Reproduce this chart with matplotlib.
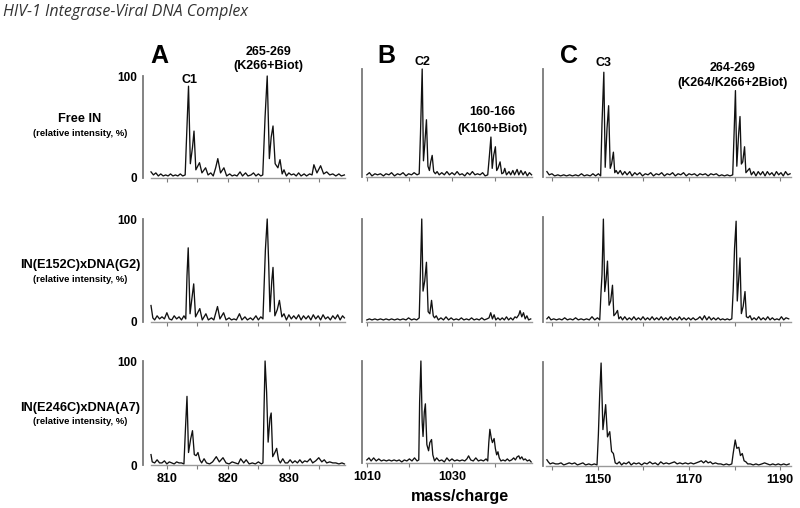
import matplotlib
matplotlib.use("Agg")
import matplotlib.pyplot as plt
from matplotlib import font_manager

# ── Spectra: (m/z, relative intensity %) ─────────────────────────────────

A_FREE = [(807.4, 6), (807.8, 3), (808.2, 5), (808.6, 2), (809.0, 4), (809.4, 2), (809.8, 3), (810.2, 2),
          (810.6, 4), (811.0, 2), (811.4, 3), (811.8, 2), (812.2, 4), (812.6, 2), (813.0, 3),
          (813.2, 35), (813.55, 90), (813.85, 14), (814.2, 30), (814.45, 46), (814.75, 8), (815.35, 15),
          (815.75, 5), (816.35, 10), (816.75, 3), (817.2, 5), (817.6, 2), (818.0, 10), (818.35, 19),
          (818.8, 5), (819.35, 10), (819.8, 2), (820.3, 4), (820.7, 2), (821.1, 3), (821.5, 2), (822.0, 6),
          (822.4, 2), (822.9, 5), (823.3, 2), (823.8, 3), (824.2, 5), (824.6, 2), (825.0, 4), (825.4, 2),
          (825.72, 3), (826.1, 60), (826.45, 100), (826.8, 19), (827.1, 40), (827.4, 51), (827.75, 14),
          (828.2, 10), (828.55, 18), (828.9, 4), (829.2, 8), (829.6, 2), (830.0, 5), (830.4, 3), (830.8, 4),
          (831.2, 2), (831.6, 5), (832.0, 2), (832.5, 4), (832.9, 2), (833.4, 4), (833.8, 3), (834.1, 13),
          (834.6, 5), (835.2, 12), (835.7, 4), (836.2, 6), (836.7, 3), (837.2, 4), (837.7, 2), (838.2, 4),
          (838.6, 2), (839.1, 3)]

A_G2 = [(807.4, 16), (807.7, 4), (808.0, 2), (808.4, 6), (808.8, 3), (809.2, 5), (809.6, 3), (810.0, 9),
        (810.4, 3), (810.8, 2), (811.2, 6), (811.6, 3), (812.0, 5), (812.4, 2), (812.8, 6), (813.1, 3),
        (813.3, 45), (813.5, 72), (813.8, 8), (814.15, 25), (814.4, 37), (814.7, 5), (815.4, 13), (815.8, 2),
        (816.4, 8), (816.8, 2), (817.3, 4), (817.7, 2), (818.3, 15), (818.7, 3), (819.3, 9), (819.7, 2),
        (820.2, 4), (820.6, 2), (821.0, 3), (821.4, 2), (821.9, 8), (822.3, 2), (822.8, 5), (823.2, 2),
        (823.7, 4), (824.1, 2), (824.6, 6), (825.0, 2), (825.4, 5), (825.75, 3),
        (826.15, 70), (826.45, 100), (826.7, 55), (826.9, 10), (827.2, 40), (827.4, 53), (827.7, 6),
        (828.1, 12), (828.45, 21), (828.85, 5), (829.2, 8), (829.6, 2), (830.0, 7), (830.4, 3), (830.8, 6),
        (831.2, 3), (831.6, 7), (832.0, 2), (832.4, 6), (832.8, 3), (833.2, 6), (833.6, 2), (834.0, 7),
        (834.4, 3), (834.8, 6), (835.2, 2), (835.6, 7), (836.0, 3), (836.4, 5), (836.8, 2), (837.2, 6),
        (837.6, 3), (838.0, 7), (838.4, 2), (838.8, 6), (839.1, 4)]

A_A7 = [(807.4, 10), (807.6, 3), (808.0, 2), (808.4, 5), (808.8, 2), (809.2, 2), (809.6, 4), (810.0, 1),
        (810.4, 3), (810.8, 2), (811.2, 1), (811.6, 3), (812.0, 2), (812.4, 2), (812.8, 1),
        (813.05, 35), (813.3, 66), (813.55, 12), (813.9, 25), (814.2, 33), (814.5, 10), (814.8, 9),
        (815.1, 12), (815.4, 5), (815.7, 2), (816.1, 6), (816.5, 2), (817.0, 1), (817.5, 3), (818.1, 8),
        (818.6, 3), (819.2, 7), (819.7, 2), (820.2, 1), (820.7, 3), (821.2, 2), (821.7, 1), (822.1, 6),
        (822.6, 2), (823.0, 5), (823.5, 1), (824.0, 2), (824.5, 1), (825.0, 3), (825.5, 1), (825.75, 2),
        (825.95, 60), (826.1, 100), (826.35, 70), (826.6, 22), (826.9, 45), (827.1, 50), (827.35, 8),
        (827.7, 12), (828.0, 16), (828.3, 5), (828.6, 2), (829.0, 6), (829.4, 2), (829.8, 2), (830.2, 5),
        (830.6, 2), (831.0, 4), (831.4, 2), (831.8, 5), (832.2, 2), (832.6, 4), (833.0, 3), (833.5, 6),
        (833.9, 2), (834.4, 4), (834.9, 7), (835.4, 3), (835.8, 5), (836.2, 2), (836.7, 3), (837.2, 2),
        (837.7, 2), (838.2, 1), (838.7, 2), (839.1, 1)]

B_FREE = [(1010.0, 2), (1010.6, 4), (1011.2, 1), (1011.9, 3), (1012.5, 2), (1013.2, 3), (1013.9, 1),
          (1014.5, 3), (1015.2, 2), (1015.8, 4), (1016.5, 1), (1017.2, 3), (1017.8, 2), (1018.5, 4),
          (1019.2, 1), (1019.8, 3), (1020.5, 2), (1021.1, 4), (1021.8, 2), (1022.3, 3),
          (1022.6, 40), (1023.0, 100), (1023.3, 15), (1023.6, 30), (1024.0, 53), (1024.35, 10),
          (1024.7, 6), (1025.0, 14), (1025.35, 20), (1025.7, 5), (1026.1, 3), (1026.5, 5), (1027.0, 2),
          (1027.6, 4), (1028.2, 2), (1028.8, 5), (1029.4, 2), (1030.0, 4), (1030.6, 2), (1031.2, 5),
          (1031.8, 2), (1032.4, 3), (1033.0, 1), (1033.6, 4), (1034.2, 2), (1034.8, 5), (1035.4, 2),
          (1036.0, 3), (1036.6, 2), (1037.2, 4), (1037.8, 1), (1038.4, 2),
          (1038.8, 20), (1039.15, 37), (1039.45, 8), (1039.8, 20), (1040.2, 28), (1040.5, 6),
          (1040.8, 8), (1041.3, 14), (1041.7, 3), (1042.1, 4), (1042.4, 8), (1042.8, 2), (1043.4, 5),
          (1043.8, 2), (1044.3, 6), (1044.7, 2), (1045.3, 7), (1045.7, 2), (1046.2, 6), (1046.7, 2),
          (1047.2, 5), (1047.7, 1), (1048.2, 4), (1048.7, 2)]

B_G2 = [(1010.0, 2), (1010.6, 3), (1011.2, 2), (1011.9, 3), (1012.5, 2), (1013.2, 3), (1013.9, 2),
        (1014.5, 3), (1015.2, 2), (1015.8, 3), (1016.5, 2), (1017.2, 3), (1017.8, 2), (1018.5, 3),
        (1019.2, 2), (1019.8, 4), (1020.5, 2), (1021.1, 3), (1021.7, 2), (1022.3, 4),
        (1022.6, 50), (1022.9, 100), (1023.2, 30), (1023.6, 40), (1024.0, 58), (1024.4, 10),
        (1024.8, 8), (1025.2, 21), (1025.6, 6), (1025.9, 4), (1026.3, 6), (1026.8, 2), (1027.4, 4),
        (1028.0, 2), (1028.6, 5), (1029.2, 2), (1029.8, 4), (1030.4, 2), (1031.0, 3), (1031.6, 2),
        (1032.2, 4), (1032.8, 2), (1033.4, 3), (1034.0, 2), (1034.6, 4), (1035.2, 2), (1035.8, 3),
        (1036.4, 2), (1037.0, 4), (1037.6, 2), (1038.2, 3), (1038.7, 4),
        (1039.1, 9), (1039.5, 3), (1039.9, 7), (1040.3, 2), (1040.8, 4), (1041.3, 2), (1041.8, 4),
        (1042.3, 2), (1042.8, 5), (1043.3, 2), (1043.8, 4), (1044.3, 2), (1044.8, 5), (1045.2, 4),
        (1045.7, 7), (1046.0, 11), (1046.4, 5), (1046.8, 9), (1047.2, 3), (1047.6, 6), (1048.0, 2),
        (1048.5, 3)]

B_A7 = [(1010.0, 3), (1010.5, 5), (1011.0, 2), (1011.6, 5), (1012.2, 2), (1012.8, 4), (1013.4, 2),
        (1014.0, 3), (1014.6, 2), (1015.2, 3), (1015.8, 2), (1016.4, 3), (1017.0, 2), (1017.6, 3),
        (1018.2, 1), (1018.8, 3), (1019.4, 2), (1020.0, 4), (1020.6, 2), (1021.2, 5), (1021.8, 2),
        (1022.2, 3), (1022.4, 60), (1022.7, 100), (1023.0, 40), (1023.2, 26), (1023.5, 50),
        (1023.75, 58), (1024.1, 18), (1024.5, 12), (1024.8, 20), (1025.2, 23), (1025.5, 8),
        (1025.9, 2), (1026.4, 5), (1027.0, 2), (1027.6, 3), (1028.2, 1), (1028.8, 5), (1029.4, 2),
        (1030.0, 4), (1030.6, 2), (1031.2, 3), (1031.8, 2), (1032.4, 3), (1033.0, 2), (1033.5, 4),
        (1033.9, 7), (1034.4, 3), (1035.0, 2), (1035.6, 5), (1036.2, 2), (1036.8, 3), (1037.4, 2),
        (1038.0, 4), (1038.4, 2), (1038.65, 20), (1038.9, 33), (1039.25, 24), (1039.5, 20),
        (1039.9, 24), (1040.2, 14), (1040.5, 8), (1040.8, 11), (1041.1, 5), (1041.5, 2), (1042.0, 3),
        (1042.5, 2), (1043.0, 4), (1043.5, 2), (1044.0, 3), (1044.5, 5), (1044.9, 3), (1045.3, 6),
        (1045.7, 7), (1046.0, 4), (1046.4, 6), (1046.8, 3), (1047.2, 4), (1047.7, 2), (1048.2, 3),
        (1048.6, 1)]

C_FREE = [(1138.8, 5), (1139.3, 2), (1139.9, 3), (1140.5, 1), (1141.2, 2), (1141.8, 1), (1142.5, 2),
          (1143.1, 1), (1143.8, 2), (1144.4, 1), (1145.1, 2), (1145.7, 1), (1146.4, 3), (1147.0, 1),
          (1147.6, 2), (1148.3, 1), (1148.9, 3), (1149.5, 1), (1150.1, 3), (1150.6, 1),
          (1150.9, 50), (1151.3, 97), (1151.6, 9), (1152.0, 45), (1152.35, 66), (1152.7, 8),
          (1153.0, 12), (1153.4, 23), (1153.7, 4), (1154.0, 6), (1154.4, 3), (1154.9, 6), (1155.4, 2),
          (1155.9, 5), (1156.4, 2), (1157.0, 5), (1157.5, 1), (1158.1, 4), (1158.6, 2), (1159.2, 4),
          (1159.8, 1), (1160.4, 3), (1161.0, 2), (1161.6, 4), (1162.2, 1), (1162.8, 3), (1163.4, 2),
          (1164.0, 4), (1164.6, 1), (1165.2, 3), (1165.8, 2), (1166.4, 4), (1167.0, 1), (1167.6, 3),
          (1168.2, 2), (1168.8, 4), (1169.4, 1), (1170.0, 3), (1170.6, 2), (1171.2, 3), (1171.8, 1),
          (1172.4, 3), (1173.0, 2), (1173.6, 3), (1174.2, 1), (1174.8, 3), (1175.4, 2), (1176.0, 3),
          (1176.6, 1), (1177.2, 2), (1177.8, 1), (1178.4, 2), (1179.0, 1), (1179.6, 2),
          (1179.9, 40), (1180.2, 80), (1180.5, 10), (1180.9, 40), (1181.2, 56), (1181.5, 12),
          (1181.8, 14), (1182.2, 28), (1182.5, 4), (1182.9, 6), (1183.3, 8), (1183.7, 2), (1184.2, 5),
          (1184.7, 1), (1185.2, 5), (1185.7, 2), (1186.2, 5), (1186.7, 1), (1187.2, 5), (1187.7, 2),
          (1188.2, 4), (1188.7, 1), (1189.2, 5), (1189.7, 2), (1190.2, 4), (1190.7, 1), (1191.2, 5),
          (1191.7, 2), (1192.2, 3)]

C_G2 = [(1138.8, 3), (1139.2, 5), (1139.7, 2), (1140.3, 3), (1140.9, 2), (1141.5, 3), (1142.1, 2),
        (1142.7, 4), (1143.3, 2), (1143.9, 3), (1144.5, 2), (1145.1, 4), (1145.7, 2), (1146.3, 3),
        (1146.9, 2), (1147.5, 3), (1148.1, 2), (1148.7, 5), (1149.3, 2), (1149.9, 4), (1150.4, 2),
        (1150.7, 30), (1150.9, 45), (1151.2, 98), (1151.5, 29), (1151.8, 40), (1152.1, 58),
        (1152.45, 16), (1152.8, 20), (1153.2, 35), (1153.5, 6), (1153.9, 8), (1154.3, 11),
        (1154.6, 3), (1155.0, 5), (1155.4, 2), (1155.9, 5), (1156.4, 2), (1156.9, 4), (1157.4, 2),
        (1157.9, 5), (1158.4, 2), (1158.9, 4), (1159.4, 2), (1159.9, 5), (1160.4, 2), (1160.9, 4),
        (1161.4, 2), (1161.9, 5), (1162.4, 2), (1162.9, 4), (1163.4, 2), (1163.9, 5), (1164.4, 2),
        (1164.9, 4), (1165.4, 2), (1165.9, 5), (1166.4, 2), (1166.9, 4), (1167.4, 2), (1167.9, 5),
        (1168.4, 2), (1168.9, 4), (1169.4, 2), (1169.9, 4), (1170.4, 2), (1170.9, 4), (1171.4, 2),
        (1171.9, 3), (1172.4, 5), (1172.9, 2), (1173.4, 6), (1173.9, 2), (1174.4, 5), (1174.9, 2),
        (1175.4, 4), (1175.9, 2), (1176.4, 4), (1176.9, 2), (1177.4, 3), (1177.9, 2), (1178.4, 3),
        (1178.9, 2), (1179.4, 3),
        (1179.7, 30), (1180.0, 70), (1180.35, 96), (1180.6, 20), (1180.9, 40), (1181.2, 61),
        (1181.5, 8), (1181.9, 15), (1182.3, 29), (1182.6, 5), (1183.0, 4), (1183.4, 6), (1183.8, 2),
        (1184.3, 4), (1184.8, 2), (1185.3, 5), (1185.8, 2), (1186.3, 4), (1186.8, 2), (1187.3, 5),
        (1187.8, 2), (1188.3, 4), (1188.8, 2), (1189.3, 3), (1189.8, 2), (1190.3, 5), (1190.8, 2),
        (1191.3, 4), (1191.9, 3)]

C_A7 = [(1138.8, 6), (1139.1, 4), (1139.5, 2), (1140.1, 3), (1140.7, 2), (1141.3, 2), (1141.9, 3),
        (1142.5, 1), (1143.1, 2), (1143.7, 3), (1144.3, 2), (1144.9, 3), (1145.5, 1), (1146.1, 2),
        (1146.7, 3), (1147.3, 1), (1148.0, 2), (1148.6, 1), (1149.2, 2), (1149.8, 1),
        (1150.1, 30), (1150.4, 70), (1150.7, 99), (1151.1, 35), (1151.7, 59), (1152.1, 28),
        (1152.6, 33), (1153.0, 14), (1153.4, 12), (1153.8, 3), (1154.2, 2), (1154.7, 4), (1155.2, 1),
        (1155.7, 3), (1156.2, 2), (1156.8, 4), (1157.3, 1), (1157.9, 3), (1158.4, 2), (1159.0, 3),
        (1159.6, 1), (1160.2, 3), (1160.8, 2), (1161.4, 4), (1162.0, 2), (1162.6, 3), (1163.2, 1),
        (1163.8, 4), (1164.4, 2), (1165.0, 3), (1165.6, 2), (1166.2, 3), (1166.8, 4), (1167.4, 2),
        (1168.0, 3), (1168.6, 2), (1169.2, 3), (1169.8, 2), (1170.4, 3), (1171.0, 2), (1171.6, 3),
        (1172.2, 4), (1172.7, 5), (1173.2, 3), (1173.7, 5), (1174.2, 3), (1174.7, 4), (1175.2, 2),
        (1175.8, 3), (1176.4, 2), (1177.0, 2), (1177.6, 1), (1178.2, 2), (1178.8, 1), (1179.4, 2),
        (1179.7, 12), (1180.15, 25), (1180.5, 17), (1180.95, 18), (1181.3, 10), (1181.7, 12),
        (1182.1, 5), (1182.5, 4), (1182.9, 2), (1183.5, 2), (1184.1, 1), (1184.7, 2), (1185.3, 1),
        (1186.0, 2), (1186.6, 3), (1187.2, 2), (1187.8, 1), (1188.4, 2), (1189.0, 1), (1189.6, 2),
        (1190.2, 1), (1190.8, 2), (1191.4, 1), (1192.0, 2)]

SPECTRA = [[A_FREE, B_FREE, C_FREE],
           [A_G2, B_G2, C_G2],
           [A_A7, B_A7, C_A7]]

ROW_LABELS = ["Free IN", "IN(E152C)xDNA(G2)", "IN(E246C)xDNA(A7)"]
PANEL_LETTERS = ["A", "B", "C"]
X_LIMITS = [(807.4, 839.2), (1009.8, 1048.8), (1138.6, 1192.4)]
X_LABELED = [[810, 820, 830], [1010, 1030], [1150, 1170, 1190]]
X_MINOR = [[815, 825, 835], [1020, 1040], [1140, 1160, 1180]]

# ── Layout (pixel boxes of the reference, 800 x 508) ─────────────────────

W, H = 800, 508
COL_X = [(151, 345), (366, 532), (546, 791)]
SPINE_GAP = [5.8, 3.0, 2.2]  # left axis line sits a bit left of the baseline (points)
ROW_Y = [[(76, 178), (69, 177), (69, 177)],
         [(219, 322), (219, 322), (217, 322)],
         [(361, 465), (361, 463), (362, 466)]]

AXIS_GRAY = "#7a7a7a"
FONT = "Liberation Sans"


def italic_family():
    # pick an installed family that really ships an italic face
    have = {(f.name, f.style) for f in font_manager.fontManager.ttflist}
    for fam in ["Open Sans", "Lato", "Noto Sans", "Roboto", "Liberation Sans"]:
        if (fam, "italic") in have:
            return fam
    return "DejaVu Sans"


def fx(x):
    return x / W


def fy(y):
    return 1 - y / H


fig = plt.figure(figsize=(8, 5.08), dpi=100)

for r in range(3):
    for c in range(3):
        left, right = COL_X[c]
        top, bottom = ROW_Y[r][c]
        ax = fig.add_axes([fx(left), fy(bottom), (right - left) / W, (bottom - top) / H])
        mz = [p[0] for p in SPECTRA[r][c]]
        inten = [p[1] for p in SPECTRA[r][c]]
        ax.plot(mz, inten, color="#111111", lw=0.95, clip_on=False)
        ax.set_xlim(*X_LIMITS[c])
        ax.set_ylim(0, 100)
        ax.patch.set_visible(False)

        for s in ("top", "right"):
            ax.spines[s].set_visible(False)
        ax.spines["left"].set_position(("outward", SPINE_GAP[c]))
        ax.spines["left"].set_color(AXIS_GRAY)
        ax.spines["left"].set_linewidth(1.3)
        ax.spines["bottom"].set_color("#999999")
        ax.spines["bottom"].set_linewidth(1.0)

        ax.set_xticks(X_LABELED[c])
        ax.set_xticks(X_MINOR[c], minor=True)
        ax.tick_params(axis="x", which="both", direction="out", length=3, width=0.8,
                       color=AXIS_GRAY, labelbottom=(r == 2), pad=3)
        for lab in ax.get_xticklabels():
            lab.set_fontfamily(FONT)
            lab.set_fontweight("bold")
            lab.set_fontsize(9)

        if c == 0:
            ax.set_yticks([0, 100])
            ax.tick_params(axis="y", length=0, pad=4)
            for lab in ax.get_yticklabels():
                lab.set_fontfamily(FONT)
                lab.set_fontweight("bold")
                lab.set_fontsize(8.5)
        else:
            ax.set_yticks([])

# ── Text ─────────────────────────────────────────────────────────────────

fig.text(fx(3), fy(12), "HIV-1 Integrase-Viral DNA Complex", fontfamily=italic_family(),
         style="italic", fontsize=11.5, color="#333333", ha="left", va="center")

for letter, x in zip(PANEL_LETTERS, [159, 386, 569]):
    fig.text(fx(x), fy(56), letter, fontfamily=FONT, fontweight="bold", fontsize=18,
             ha="center", va="center")

for label, y in zip(ROW_LABELS, [119, 265, 408]):
    fig.text(fx(80), fy(y), label, fontfamily=FONT, fontweight="bold", fontsize=9.2,
             ha="center", va="center")
    fig.text(fx(80), fy(y + 14), "(relative intensity, %)", fontfamily=FONT,
             fontweight="bold", fontsize=6.8, ha="center", va="center")

annotations = [("C1", 190, 80), ("265-269", 268, 52), ("(K266+Biot)", 268, 66),
               ("C2", 422, 62), ("160-166", 492, 112), ("(K160+Biot)", 492, 129),
               ("C3", 603, 63), ("264-269", 733, 68), ("(K264/K266+2Biot)", 733, 83)]
for text, x, y in annotations:
    fig.text(fx(x), fy(y), text, fontfamily=FONT, fontweight="bold", fontsize=9,
             ha="center", va="center")

fig.text(fx(460), fy(497), "mass/charge", fontfamily=FONT, fontweight="bold",
         fontsize=11.5, ha="center", va="center")

fig.savefig("out.png", dpi=100)
